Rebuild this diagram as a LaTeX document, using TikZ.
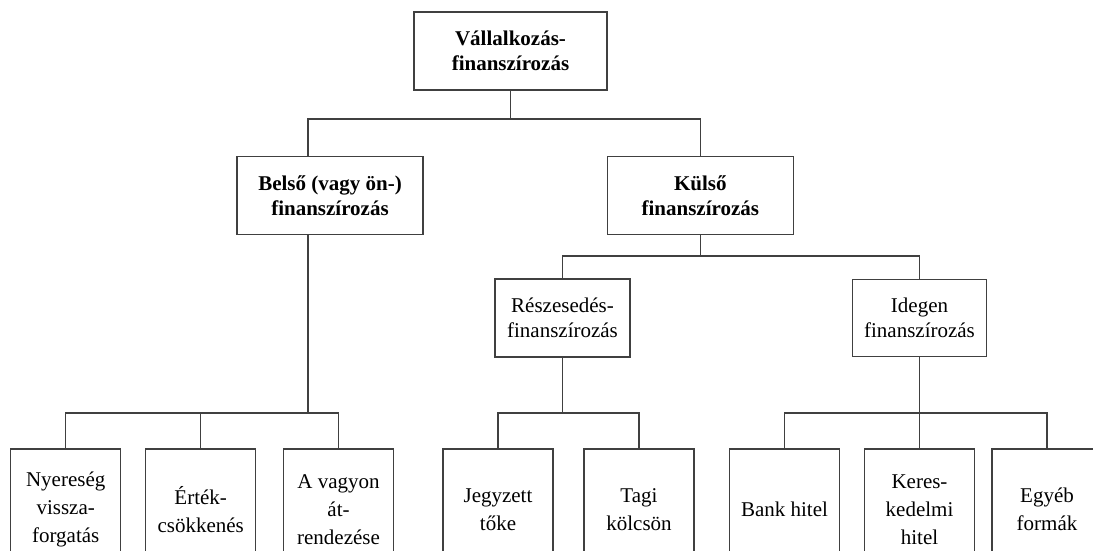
\documentclass[tikz,border=0pt]{standalone}
\usepackage{fontspec}
\setmainfont{Liberation Serif}
\begin{document}
\begin{tikzpicture}[x=1pt,y=-1pt,
  box/.style={draw=black!75, line width=1.2pt, inner sep=0pt, align=center, text=black},
  topbox/.style={box, font=\fontsize{21}{25}\selectfont\bfseries},
  midbox/.style={box, font=\fontsize{21}{25}\selectfont},
  leafbox/.style={box, font=\fontsize{21}{28}\selectfont, minimum width=110pt, minimum height=121pt},
  conn/.style={draw=black!75, line width=1.2pt}]
\clip (0,0) rectangle (1093,550);
\fill[white] (0,0) rectangle (1093,550);
\coordinate (y1) at (0,119);
\coordinate (y2) at (0,256);
\coordinate (y3) at (0,413);
% level 0
\node[topbox, minimum width=193pt, minimum height=78pt] (top) at (510.5,51) {Vállalkozás-\\finanszírozás};
% level 1
\node[topbox, minimum width=186pt, minimum height=78pt] (belso) at (330,195.5) {Belső (vagy ön-)\\finanszírozás};
\node[topbox, minimum width=186pt, minimum height=78pt] (kulso) at (700.3,195.8) {Külső\\finanszírozás};
% level 2
\node[midbox, minimum width=135pt, minimum height=78pt] (resz) at (562.5,318) {Részesedés-\\finanszírozás};
\node[midbox, minimum width=134.4pt, minimum height=77.4pt] (idegen) at (919.5,318) {Idegen\\finanszírozás};
% leaves
\node[leafbox] (b1) at (65.7,509.5) {Nyereség\\vissza-\\forgatás};
\node[leafbox] (b2) at (200.7,509.5) {Érték-\\csökkenés};
\node[leafbox] (b3) at (338.5,509.5) {A vagyon\\át-\\rendezése};
\node[leafbox] (b4) at (498,509.5) {Jegyzett\\tőke};
\node[leafbox] (b5) at (639,509.5) {Tagi\\kölcsön};
\node[leafbox] (b6) at (784.5,509.5) {Bank hitel};
\node[leafbox] (b7) at (919.5,509.5) {Keres-\\kedelmi\\hitel};
\node[leafbox] (b8) at (1047,509.5) {Egyéb\\formák};
% connectors
\draw[conn] (top.south) -- (top.south |- y1);
\draw[conn] ([xshift=-22pt]belso.north) |- (kulso.north |- y1) -- (kulso.north);
\draw[conn] (kulso.south) -- (kulso.south |- y2);
\draw[conn] (resz.north) |- (idegen.north |- y2) -- (idegen.north);
\draw[conn] ([xshift=-22pt]belso.south) -- ([xshift=-22pt]belso.south |- y3);
\draw[conn] (b1.north) |- (b3.north |- y3) -- (b3.north);
\draw[conn] (b2.north) -- (b2.north |- y3);
\draw[conn] (resz.south) -- (resz.south |- y3);
\draw[conn] (b4.north) |- (b5.north |- y3) -- (b5.north);
\draw[conn] (idegen.south) -- (idegen.south |- y3);
\draw[conn] (b6.north) |- (b8.north |- y3) -- (b8.north);
\draw[conn] (b7.north) -- (b7.north |- y3);
\end{tikzpicture}
\end{document}
